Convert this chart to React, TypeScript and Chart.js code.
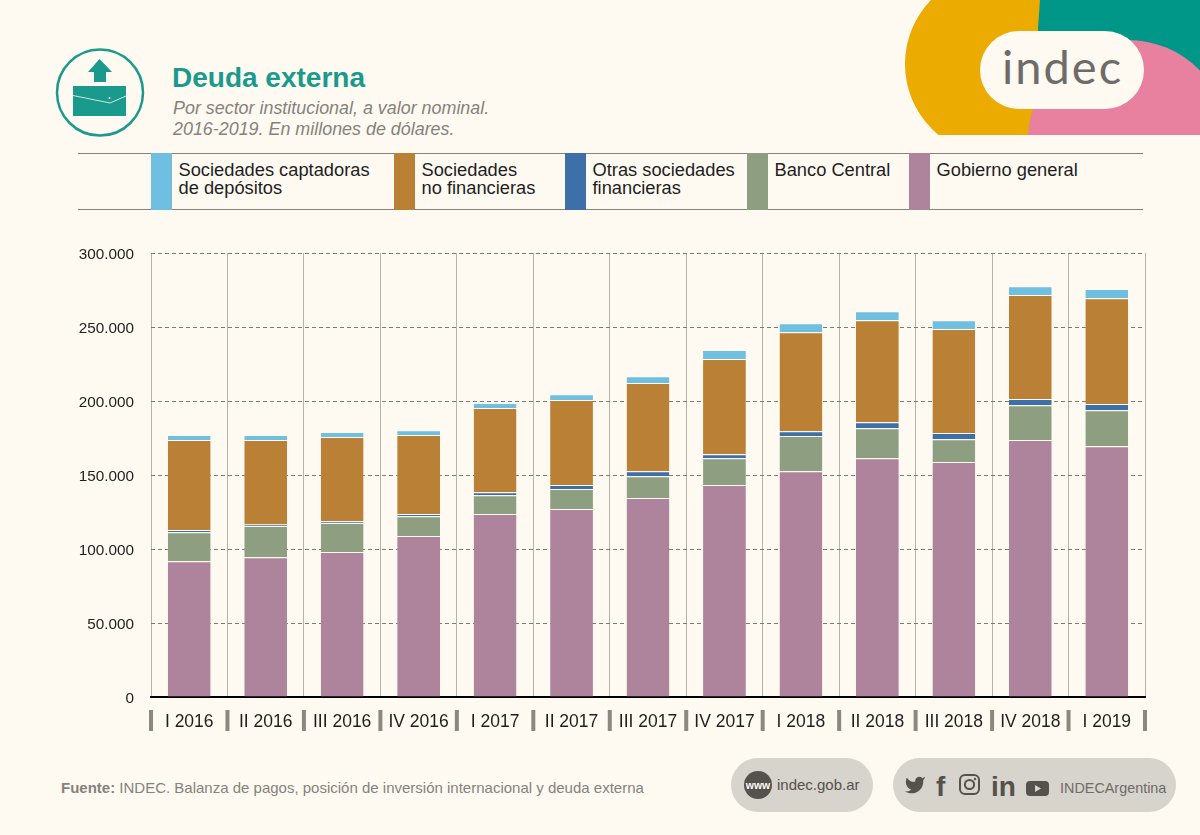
import Chart from "chart.js/auto";
import React, { useEffect, useRef } from "react";

const quarters = [
  "I 2016", "II 2016", "III 2016", "IV 2016",
  "I 2017", "II 2017", "III 2017", "IV 2017",
  "I 2018", "II 2018", "III 2018", "IV 2018",
  "I 2019",
];

const gobierno = [91800, 94500, 97900, 108700, 123600, 127000, 134400, 143200, 152600, 161400, 158700, 173600, 169500];
const bancoCentral = [19600, 21000, 19600, 13500, 12800, 13500, 14800, 18200, 23700, 20200, 15500, 23600, 24300];
const otrasFinancieras = [1400, 1000, 1300, 1400, 2000, 2700, 3400, 2700, 3300, 4100, 4100, 4100, 4100];
const noFinancieras = [60800, 57100, 56800, 53400, 56800, 57400, 59500, 64200, 66900, 68900, 70300, 70300, 71600];
const captadoras = [3400, 3400, 3400, 3300, 3400, 4000, 4700, 6100, 6100, 6000, 6000, 6000, 6100];

const BG = "#fefaf2";
const TEAL = "#1a9a8c";
const GREY_TEXT = "#85827c";
const DARK_PILL = "#55514c";

const legendItems = [
  { lines: ["Sociedades captadoras", "de depósitos"], color: "#6fbfe0", x: 151 },
  { lines: ["Sociedades", "no financieras"], color: "#b98036", x: 394 },
  { lines: ["Otras sociedades", "financieras"], color: "#3d6fa8", x: 565 },
  { lines: ["Banco Central"], color: "#8d9f80", x: 747 },
  { lines: ["Gobierno general"], color: "#ae849c", x: 909 },
];

// gruesas marcas grises debajo del eje, entre trimestres
const quarterMarks = {
  id: "quarterMarks",
  afterDraw(chart: any) {
    const { ctx, scales } = chart;
    const x = scales.x;
    const step = x.getPixelForValue(1) - x.getPixelForValue(0);
    ctx.save();
    ctx.fillStyle = "#8b8880";
    for (let i = 0; i <= quarters.length; i++) {
      const px = x.getPixelForValue(0) + (i - 0.5) * step;
      ctx.fillRect(px - 2, 710, 4, 21);
    }
    ctx.restore();
  },
};

const Header = () => (
  <>
    <clipPath id="corner">
      <rect x="880" y="0" width="320" height="135" />
    </clipPath>
    <g clipPath="url(#corner)">
      <circle cx="997" cy="64" r="92" fill="#ebab00" />
      <path d="M1040 0 L1200 0 L1200 110 L1038 110 L1038 28 Z" fill="#009688" />
      <circle cx="1128" cy="140" r="100" fill="#e8809f" />
    </g>
    <rect x="980" y="31" width="164" height="78" rx="39" fill={BG} />
    <text x="1002" y="84" fontFamily="Lato" fontSize="47" letterSpacing="2" fill="#6f6b68">indec</text>

    <circle cx="100" cy="92.6" r="43" fill="none" stroke={TEAL} strokeWidth="2.5" />
    <path d="M99.5 59 L112 72 L106 72 L106 82 L94 82 L94 72 L88 72 Z" fill={TEAL} />
    <rect x="73" y="86" width="53" height="30" fill={TEAL} />
    <path d="M73 95.5 L110 103 L126 96" fill="none" stroke={BG} strokeWidth="0.8" />
    <circle cx="109.5" cy="98" r="1" fill={BG} />

    <text x="172" y="87" fontFamily="Liberation Sans" fontWeight="700" fontSize="28" fill={TEAL}>Deuda externa</text>
    <text x="173" y="113.5" fontFamily="Liberation Sans" fontStyle="italic" fontSize="17.9" fill={GREY_TEXT}>Por sector institucional, a valor nominal.</text>
    <text x="173" y="134.5" fontFamily="Liberation Sans" fontStyle="italic" fontSize="17.9" fill={GREY_TEXT}>2016-2019. En millones de dólares.</text>

    <line x1="78" x2="1143" y1="153.5" y2="153.5" stroke="#85827c" />
    <line x1="78" x2="1143" y1="209.5" y2="209.5" stroke="#85827c" />
    {legendItems.map((item) => (
      <g key={item.x}>
        <rect x={item.x} y="153" width="21" height="57" fill={item.color} />
        {item.lines.map((line, i) => (
          <text key={line} x={item.x + 27.5} y={176 + i * 18} fontFamily="Liberation Sans" fontSize="18.3" fill="#1e1e1e">{line}</text>
        ))}
      </g>
    ))}
  </>
);

const Footer = () => (
  <>
    <text x="61" y="793" fontFamily="Liberation Sans" fontSize="15" fill={GREY_TEXT}>
      <tspan fontWeight="700">Fuente:</tspan> INDEC. Balanza de pagos, posición de inversión internacional y deuda externa
    </text>

    <rect x="731" y="758" width="142" height="54" rx="27" fill="#d7d3cd" />
    <circle cx="758" cy="785" r="14" fill={DARK_PILL} />
    <text x="758" y="789" textAnchor="middle" fontFamily="Liberation Sans" fontWeight="700" fontSize="10.5" fill={BG}>www</text>
    <text x="777" y="790" fontFamily="Liberation Sans" fontSize="15" fill={DARK_PILL}>indec.gob.ar</text>

    <rect x="893" y="758" width="283" height="54" rx="27" fill="#d7d3cd" />
    <path
      transform="translate(904 774) scale(0.92)"
      d="M23 3a10.9 10.9 0 0 1-3 1.53 4.48 4.48 0 0 0-7.86 3v1A10.66 10.66 0 0 1 3 4s-4 9 5 13a11.64 11.64 0 0 1-7 2c9 5 20 0 20-11.5a4.5 4.5 0 0 0-.08-.83A7.72 7.72 0 0 0 23 3z"
      fill={DARK_PILL}
    />
    <text x="936" y="796" fontFamily="Liberation Sans" fontWeight="700" fontSize="28" fill={DARK_PILL}>f</text>
    <rect x="960" y="775" width="19" height="19" rx="5" fill="none" stroke={DARK_PILL} strokeWidth="2" />
    <circle cx="969.5" cy="784.5" r="4.6" fill="none" stroke={DARK_PILL} strokeWidth="2" />
    <circle cx="975" cy="779" r="1.2" fill={DARK_PILL} />
    <text x="991" y="796" fontFamily="Liberation Sans" fontWeight="700" fontSize="28" fill={DARK_PILL}>in</text>
    <rect x="1026" y="781" width="23" height="15" rx="4" fill={DARK_PILL} />
    <path d="M1035 785 L1041 788.5 L1035 792 Z" fill="#d7d3cd" />
    <text x="1060" y="793" fontFamily="Liberation Sans" fontSize="14.4" fill="#6f6b68">INDECArgentina</text>
  </>
);

const App: React.FC = () => {
  const chartRef = useRef<Chart>();
  const canvasRef = useRef<HTMLCanvasElement>(null);

  useEffect(() => {
    const canvas = canvasRef.current;
    if (!canvas) {
      return;
    }

    const series = [
      { label: "Gobierno general", data: gobierno, backgroundColor: legendItems[4].color },
      { label: "Banco Central", data: bancoCentral, backgroundColor: legendItems[3].color },
      { label: "Otras sociedades financieras", data: otrasFinancieras, backgroundColor: legendItems[2].color },
      { label: "Sociedades no financieras", data: noFinancieras, backgroundColor: legendItems[1].color },
      { label: "Sociedades captadoras de depósitos", data: captadoras, backgroundColor: legendItems[0].color },
    ];

    chartRef.current = new Chart(canvas, {
      type: "bar",
      data: {
        labels: quarters,
        datasets: series.map((s) => ({
          ...s,
          borderColor: BG,
          borderWidth: { top: 1 },
          borderSkipped: false,
          barPercentage: 0.56,
          categoryPercentage: 1,
        })),
      },
      plugins: [quarterMarks],
      options: {
        responsive: false,
        animation: false,
        layout: { padding: { left: 0, right: 55, top: 253, bottom: 98 } },
        plugins: { legend: { display: false }, title: { display: false }, tooltip: { enabled: false } },
        scales: {
          x: {
            stacked: true,
            grid: { color: "#b5b2aa", lineWidth: 1, drawTicks: false },
            border: { color: "#000000", width: 2 },
            ticks: {
              color: "#1e1e1e",
              padding: 15,
              maxRotation: 0,
              autoSkip: false,
              font: { family: "Liberation Sans", size: 17.5 },
            },
            afterFit: (scale: any) => {
              scale.height = 40;
            },
          },
          y: {
            stacked: true,
            min: 0,
            max: 300000,
            grid: { color: "#7d7a72", lineWidth: 1, drawTicks: false },
            border: { display: false, dash: [4, 3] },
            ticks: {
              color: "#1e1e1e",
              stepSize: 50000,
              padding: 17,
              labelOffset: 2,
              font: { family: "Liberation Sans", size: 15.3 },
              callback: (v: any) => Number(v).toLocaleString("de-DE"),
            },
            afterFit: (scale: any) => {
              scale.width = 151;
            },
          },
        },
      },
    });

    return () => {
      if (chartRef.current) {
        chartRef.current.destroy();
      }
    };
  }, []);

  return (
    <div style={{ position: "absolute", left: 0, top: 0, width: 1200, height: 835, background: BG, overflow: "hidden" }}>
      <svg width="1200" height="835" style={{ position: "absolute", left: 0, top: 0 }}>
        <Header />
        <Footer />
      </svg>
      <canvas ref={canvasRef} width={1200} height={835} style={{ position: "absolute", left: 0, top: 0 }} />
    </div>
  );
};

export default App;
